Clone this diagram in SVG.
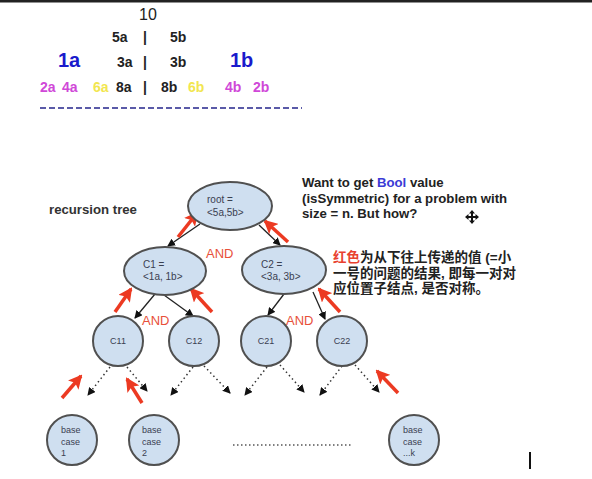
<svg xmlns="http://www.w3.org/2000/svg" width="592" height="479" viewBox="0 0 592 479">
<style>
.t{font-family:"Liberation Sans",Arial,sans-serif}
.hb{font-weight:bold;font-size:14px;fill:#222}
.big{font-weight:bold;font-size:20px;fill:#1a1acc}
.mg{fill:#d048d8}
.yl{fill:#f2e650}
.node{fill:#cfdff0;stroke:#505050;stroke-width:2}
.nt{font-size:9px;fill:#3a4050}
.et{font-size:10px;fill:#3a4050}
.and{font-size:13px;fill:#e8503a}
.edge{stroke:#222;stroke-width:1.3;fill:none}
.dot{stroke:#333;stroke-width:1.5;fill:none;stroke-dasharray:1.5 3}
.red{stroke:#ec3a22;stroke-width:3.5;fill:none}
.note{font-size:13.2px;font-weight:bold;fill:#222}
.cn{font-family:"Liberation Sans","Noto Sans CJK SC",sans-serif;font-size:13.5px;font-weight:bold;fill:#222}
</style>
<defs>
<marker id="ah" markerWidth="8" markerHeight="8" refX="7" refY="4" orient="auto" markerUnits="userSpaceOnUse"><path d="M0,0 L8,4 L0,8 Z" fill="#111"/></marker>
<marker id="ra" markerWidth="14" markerHeight="14" refX="12" refY="7" orient="auto" markerUnits="userSpaceOnUse"><path d="M0,0 L14,7 L0,14 L3,7 Z" fill="#ec3a22"/></marker>
</defs>
<rect width="592" height="479" fill="#fff"/>
<rect x="0" y="0" width="592" height="2.5" fill="#222"/>

<g id="top-numbers" class="t">
<text x="139" y="20" font-size="16" fill="#222">10</text>
<text x="112" y="42" class="hb">5a</text>
<text x="143" y="42" class="hb">|</text>
<text x="170" y="42" class="hb">5b</text>
<text x="58" y="67" class="big">1a</text>
<text x="117" y="67" class="hb">3a</text>
<text x="143" y="67" class="hb">|</text>
<text x="170" y="67" class="hb">3b</text>
<text x="230" y="67" class="big">1b</text>
<text x="40" y="92" class="hb mg">2a</text>
<text x="62" y="92" class="hb mg">4a</text>
<text x="93" y="92" class="hb yl">6a</text>
<text x="116" y="92" class="hb">8a</text>
<text x="143" y="92" class="hb">|</text>
<text x="161" y="92" class="hb">8b</text>
<text x="188" y="92" class="hb yl">6b</text>
<text x="225" y="92" class="hb mg">4b</text>
<text x="253" y="92" class="hb mg">2b</text>
</g>
<line x1="40" y1="108" x2="302" y2="108" stroke="#5a5aa8" stroke-width="2" stroke-dasharray="6 3"/>

<text x="49" y="214" class="t" font-size="13.2" font-weight="bold" fill="#333">recursion tree</text>

<g id="note1" class="t note">
<text x="302" y="187">Want to get <tspan fill="#3b3bd6">Bool</tspan> value</text>
<text x="302" y="203">(isSymmetric) for a problem with</text>
<text x="302" y="218">size = n.  But how?</text>
</g>
<g id="note2" class="cn">
<text x="333" y="262"><tspan fill="#e8412f">红色</tspan>为从下往上传递的值 (=小</text>
<text x="333" y="278">一号的问题的结果, 即每一对对</text>
<text x="333" y="293">应位置子结点, 是否对称。</text>
</g>

<g id="connectors">
<line class="edge" x1="200" y1="224" x2="168" y2="246" marker-end="url(#ah)"/>
<line class="edge" x1="259" y1="225" x2="280" y2="245" marker-end="url(#ah)"/>
<line class="edge" x1="155" y1="294" x2="135" y2="318" marker-end="url(#ah)"/>
<line class="edge" x1="164" y1="295" x2="193" y2="316" marker-end="url(#ah)"/>
<line class="edge" x1="284" y1="294" x2="268" y2="315" marker-end="url(#ah)"/>
<line class="edge" x1="313" y1="292" x2="325" y2="319" marker-end="url(#ah)"/>
<line class="dot" x1="110" y1="367" x2="88" y2="395" marker-end="url(#ah)"/>
<line class="dot" x1="127" y1="367" x2="147" y2="391" marker-end="url(#ah)"/>
<line class="dot" x1="193" y1="367" x2="171" y2="395" marker-end="url(#ah)"/>
<line class="dot" x1="204" y1="366" x2="230" y2="393" marker-end="url(#ah)"/>
<line class="dot" x1="267" y1="367" x2="245" y2="395" marker-end="url(#ah)"/>
<line class="dot" x1="280" y1="365" x2="304" y2="392" marker-end="url(#ah)"/>
<line class="dot" x1="342" y1="366" x2="320" y2="395" marker-end="url(#ah)"/>
<line class="dot" x1="355" y1="365" x2="379" y2="392" marker-end="url(#ah)"/>
<line x1="233" y1="445" x2="352" y2="445" stroke="#555" stroke-width="1.3" stroke-dasharray="1.5 2.5"/>
<line class="red" x1="178" y1="237" x2="197" y2="213" marker-end="url(#ra)"/>
<line class="red" x1="288" y1="242" x2="265" y2="221" marker-end="url(#ra)"/>
<line class="red" x1="115" y1="312" x2="131" y2="289" marker-end="url(#ra)"/>
<line class="red" x1="212" y1="312" x2="191" y2="289" marker-end="url(#ra)"/>
<line class="red" x1="340" y1="312" x2="319" y2="289" marker-end="url(#ra)"/>
<line class="red" x1="62" y1="398" x2="81" y2="376" marker-end="url(#ra)"/>
<line class="red" x1="142" y1="403" x2="127" y2="379" marker-end="url(#ra)"/>
<line class="red" x1="398" y1="393" x2="377" y2="371" marker-end="url(#ra)"/>
</g>

<g class="t and">
<text x="206" y="258">AND</text>
<text x="142" y="325">AND</text>
<text x="286" y="325">AND</text>
</g>

<g id="root" class="t"><ellipse class="node" cx="230" cy="206" rx="42" ry="24"/><text x="207" y="203" class="et">root =</text><text x="207" y="216" class="et">&lt;5a,5b&gt;</text></g>
<g id="c1" class="t"><ellipse class="node" cx="165" cy="271" rx="41" ry="24"/><text x="143" y="268" class="et">C1 =</text><text x="143" y="280" class="et">&lt;1a, 1b&gt;</text></g>
<g id="c2" class="t"><ellipse class="node" cx="284" cy="270" rx="42" ry="24"/><text x="261" y="268" class="et">C2 =</text><text x="261" y="280" class="et">&lt;3a, 3b&gt;</text></g>
<g id="c11" class="t"><circle class="node" cx="118" cy="341" r="25"/><text x="118" y="344" class="nt" text-anchor="middle">C11</text></g>
<g id="c12" class="t"><circle class="node" cx="194" cy="341" r="25"/><text x="194" y="344" class="nt" text-anchor="middle">C12</text></g>
<g id="c21" class="t"><circle class="node" cx="266" cy="341" r="25"/><text x="266" y="344" class="nt" text-anchor="middle">C21</text></g>
<g id="c22" class="t"><circle class="node" cx="342" cy="341" r="25"/><text x="342" y="344" class="nt" text-anchor="middle">C22</text></g>
<g id="base1" class="t"><circle class="node" cx="72" cy="440" r="25"/><text x="61" y="433" class="nt">base</text><text x="61" y="445" class="nt">case</text><text x="61" y="456" class="nt">1</text></g>
<g id="base2" class="t"><circle class="node" cx="154" cy="440" r="25"/><text x="142" y="433" class="nt">base</text><text x="142" y="445" class="nt">case</text><text x="142" y="456" class="nt">2</text></g>
<g id="basek" class="t"><circle class="node" cx="414" cy="440" r="25"/><text x="403" y="433" class="nt">base</text><text x="403" y="445" class="nt">case</text><text x="403" y="456" class="nt">...k</text></g>

<g id="cursor-move" fill="#111">
<path d="M472,210 L475,213.5 L473,213.5 L473,216 L475.5,216 L475.5,214 L479,217 L475.5,220 L475.5,218 L473,218 L473,220.5 L475,220.5 L472,224 L469,220.5 L471,220.5 L471,218 L468.5,218 L468.5,220 L465,217 L468.5,214 L468.5,216 L471,216 L471,213.5 L469,213.5 Z"/>
</g>
<rect x="529" y="452" width="2" height="17" fill="#111"/>
</svg>
